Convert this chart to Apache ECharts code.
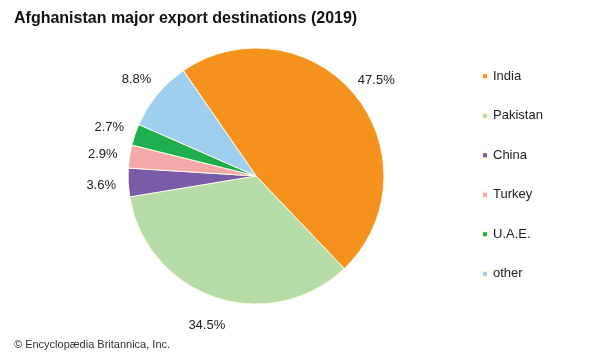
<!DOCTYPE html>
<html><head><meta charset="utf-8">
<script src="https://cdn.jsdelivr.net/npm/echarts@6/dist/echarts.min.js"></script>
<style>html,body{margin:0;padding:0;background:#fff}#c{width:600px;height:360px}</style>
</head><body><div id="c"></div>
<script>
const categories = ['India', 'Pakistan', 'China', 'Turkey', 'U.A.E.', 'other'];
const shares = [47.5, 34.5, 3.6, 2.9, 2.7, 8.8];
const colors = ['#F5921E', '#B5DBA6', '#7A5BA8', '#F5A8A8', '#1FAE4F', '#9ECFEE'];

const font = 'Liberation Sans, Arial, sans-serif';
const pieData = categories.map((c, i) => ({name: c, value: shares[i]}));
const chart = echarts.init(document.getElementById('c'));
chart.setOption({
  animation: false,
  title: [{
    text: 'Afghanistan major export destinations (2019)',
    left: 9, top: 6,
    textStyle: {fontFamily: font, fontSize: 16, fontWeight: 'bold', color: '#111'}
  }, {
    text: '© Encyclopædia Britannica, Inc.',
    left: 9, top: 334,
    textStyle: {fontFamily: font, fontSize: 11, fontWeight: 'normal', color: '#333'}
  }],
  legend: {
    orient: 'vertical', left: 476, top: 64,
    icon: 'rect', itemWidth: 6, itemHeight: 6, itemGap: 25,
    textStyle: {fontFamily: font, fontSize: 13, color: '#222', lineHeight: 14.5},
    data: categories
  },
  series: [{
    type: 'pie',
    center: [256, 176], radius: 128,
    startAngle: 124.6, clockwise: true,
    color: colors,
    itemStyle: {borderColor: '#fffbe8', borderWidth: 1},
    label: {show: false},
    labelLine: {show: false},
    emphasis: {disabled: true},
    data: pieData
  }, {
    type: 'pie',
    center: [256, 178], radius: [128, 176],
    startAngle: 124.6, clockwise: true,
    silent: true,
    itemStyle: {color: 'rgba(255,255,255,0)', borderWidth: 0},
    label: {show: true, position: 'inside', rotate: 0, formatter: p => p.value.toFixed(1) + '%',
      fontFamily: font, fontSize: 13, color: '#222', textBorderWidth: 0},
    labelLine: {show: false},
    emphasis: {disabled: true},
    data: pieData
  }]
});
</script></body></html>
